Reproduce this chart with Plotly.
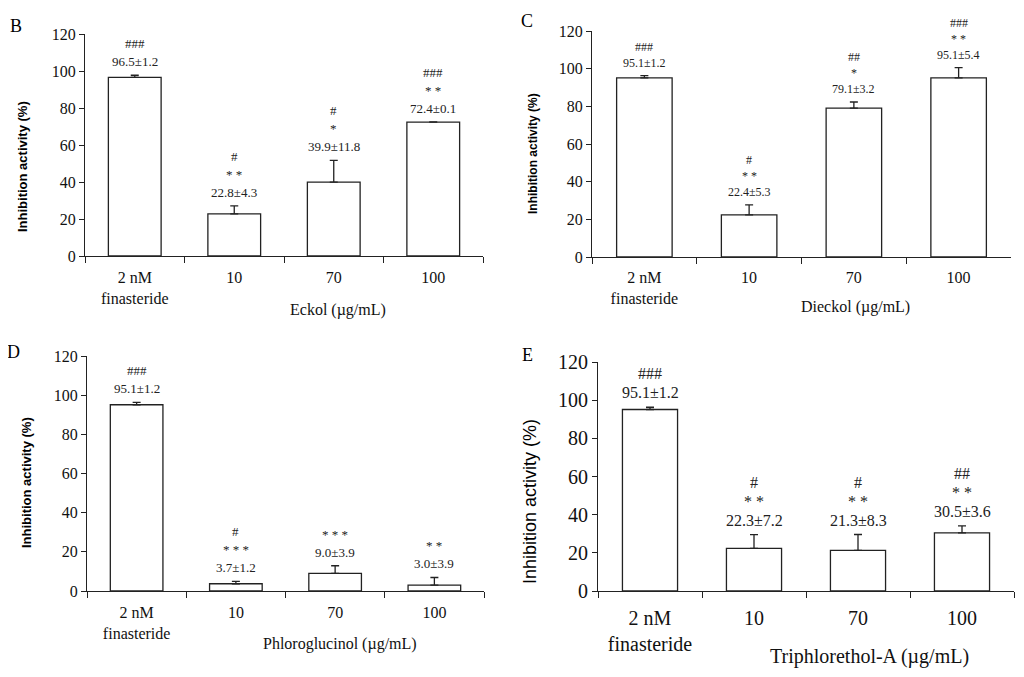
import plotly.graph_objects as go

# categories shared by all four panels
categories = ["2 nM<br>finasteride", "10", "70", "100"]

# B: Eckol
eckol_mean = [96.5, 22.8, 39.9, 72.4]
eckol_sd = [1.2, 4.3, 11.8, 0.1]
eckol_star = ["", "* *", "*", "* *"]
eckol_hash = ["###", "#", "#", "###"]

# C: Dieckol
dieckol_mean = [95.1, 22.4, 79.1, 95.1]
dieckol_sd = [1.2, 5.3, 3.2, 5.4]
dieckol_star = ["", "* *", "*", "* *"]
dieckol_hash = ["###", "#", "##", "###"]

# D: Phloroglucinol
phloro_mean = [95.1, 3.7, 9.0, 3.0]
phloro_sd = [1.2, 1.2, 3.9, 3.9]
phloro_star = ["", "* * *", "* * *", "* *"]
phloro_hash = ["###", "#", "", ""]

# E: Triphlorethol-A
triphlo_mean = [95.1, 22.3, 21.3, 30.5]
triphlo_sd = [1.2, 7.2, 8.3, 3.6]
triphlo_star = ["", "* *", "* *", "* *"]
triphlo_hash = ["###", "#", "#", "##"]

serif = "Liberation Serif"
sans = "Liberation Sans"

# page body has an 8px margin, so the figure is sized to fit inside the window
W, H, OFF = 1008, 661, 8


def fx(px):
    return (px - OFF) / W


def fy(py):
    return 1 - (py - OFF) / H


panels = [
    dict(letter="B", xtitle="Eckol (\u00b5g/mL)", mean=eckol_mean, sd=eckol_sd, star=eckol_star, hash=eckol_hash,
         x0=85, x1=483, y0=256, y1=34,
         letter_xy=(16, 26), xtitle_xy=(338, 310), ytitle_xy=(22, 167), ybold=True, ysize=13,
         tick=16, note=13, step=18, standoff=7),
    dict(letter="C", xtitle="Dieckol (\u00b5g/mL)", mean=dieckol_mean, sd=dieckol_sd, star=dieckol_star, hash=dieckol_hash,
         x0=592, x1=1011, y0=257, y1=31,
         letter_xy=(527, 21), xtitle_xy=(855, 307), ytitle_xy=(533, 154), ybold=True, ysize=12,
         tick=16, note=12, step=16, standoff=6),
    dict(letter="D", xtitle="Phloroglucinol (\u00b5g/mL)", mean=phloro_mean, sd=phloro_sd, star=phloro_star, hash=phloro_hash,
         x0=87, x1=484, y0=591, y1=356,
         letter_xy=(13, 352), xtitle_xy=(340, 644), ytitle_xy=(26, 483), ybold=True, ysize=13,
         tick=16, note=13, step=18, standoff=7),
    dict(letter="E", xtitle="Triphlorethol-A (\u00b5g/mL)", mean=triphlo_mean, sd=triphlo_sd, star=triphlo_star, hash=triphlo_hash,
         x0=598, x1=1014, y0=591, y1=362,
         letter_xy=(527, 355), xtitle_xy=(869, 656), ytitle_xy=(530, 502), ybold=False, ysize=18,
         tick=20, note=16, step=19, standoff=9),
]

fig = go.Figure()
annotations = []
layout = {}

for i, p in enumerate(panels, start=1):
    sfx = "" if i == 1 else str(i)
    xref, yref = "x" + sfx, "y" + sfx
    fig.add_trace(go.Bar(
        x=categories, y=p["mean"], width=0.53,
        marker=dict(color="white", line=dict(color="#222", width=1.3)),
        error_y=dict(type="data", array=p["sd"], arrayminus=[0] * 4, symmetric=False,
                     color="#222", thickness=1.3, width=4),
        xaxis=xref, yaxis=yref, showlegend=False, hoverinfo="skip",
    ))
    layout["xaxis" + sfx] = dict(
        domain=[fx(p["x0"]), fx(p["x1"])], anchor=yref, type="category", range=[-0.5, 3.5],
        automargin=False, showline=True, linecolor="#222", linewidth=1.2,
        ticks="outside", tickson="boundaries", ticklen=6, tickcolor="#222",
        ticklabelstandoff=p["standoff"], showgrid=False, fixedrange=True,
        tickfont=dict(family=serif, size=p["tick"], color="#111"),
    )
    layout["yaxis" + sfx] = dict(
        domain=[fy(p["y0"]), fy(p["y1"])], anchor=xref, range=[0, 120], dtick=20,
        automargin=False, showline=True, linecolor="#222", linewidth=1.2,
        ticks="outside", ticklen=5, tickcolor="#222",
        showgrid=False, zeroline=False, fixedrange=True,
        tickfont=dict(family=serif, size=p["tick"], color="#111"),
    )

    # value labels and significance marks above each bar
    for j, (m, s) in enumerate(zip(p["mean"], p["sd"])):
        top = m + s
        rows = [f"{m:.1f}\u00b1{s:.1f}"]
        if p["star"][j]:
            rows.append(p["star"][j])
        if p["hash"][j]:
            rows.append(p["hash"][j])
        for k, txt in enumerate(rows):
            annotations.append(dict(
                x=j, y=top, xref=xref, yref=yref, text=txt, showarrow=False,
                xanchor="center", yanchor="bottom", yshift=4 + k * p["step"],
                font=dict(family=serif, size=p["note"], color="#222"),
            ))

    # panel letter, x title, y title
    lx, ly = p["letter_xy"]
    annotations.append(dict(x=fx(lx), y=fy(ly), xref="paper", yref="paper", text=p["letter"],
                            xanchor="center", yanchor="middle", showarrow=False,
                            font=dict(family=serif, size=18, color="black")))
    tx, ty = p["xtitle_xy"]
    annotations.append(dict(x=fx(tx), y=fy(ty), xref="paper", yref="paper", text=p["xtitle"],
                            xanchor="center", yanchor="middle", showarrow=False,
                            font=dict(family=serif, size=p["tick"], color="#111")))
    yx, yy = p["ytitle_xy"]
    ytxt = "<b>Inhibition activity (%)</b>" if p["ybold"] else "Inhibition activity (%)"
    annotations.append(dict(x=fx(yx), y=fy(yy), xref="paper", yref="paper", text=ytxt,
                            textangle=-90, xanchor="center", yanchor="middle", showarrow=False,
                            font=dict(family=sans, size=p["ysize"], color="black")))

fig.update_layout(
    width=W, height=H,
    margin=dict(l=0, r=0, t=0, b=0, pad=0, autoexpand=False),
    paper_bgcolor="white", plot_bgcolor="white",
    annotations=annotations,
    **layout,
)
fig.write_html("out.html")
